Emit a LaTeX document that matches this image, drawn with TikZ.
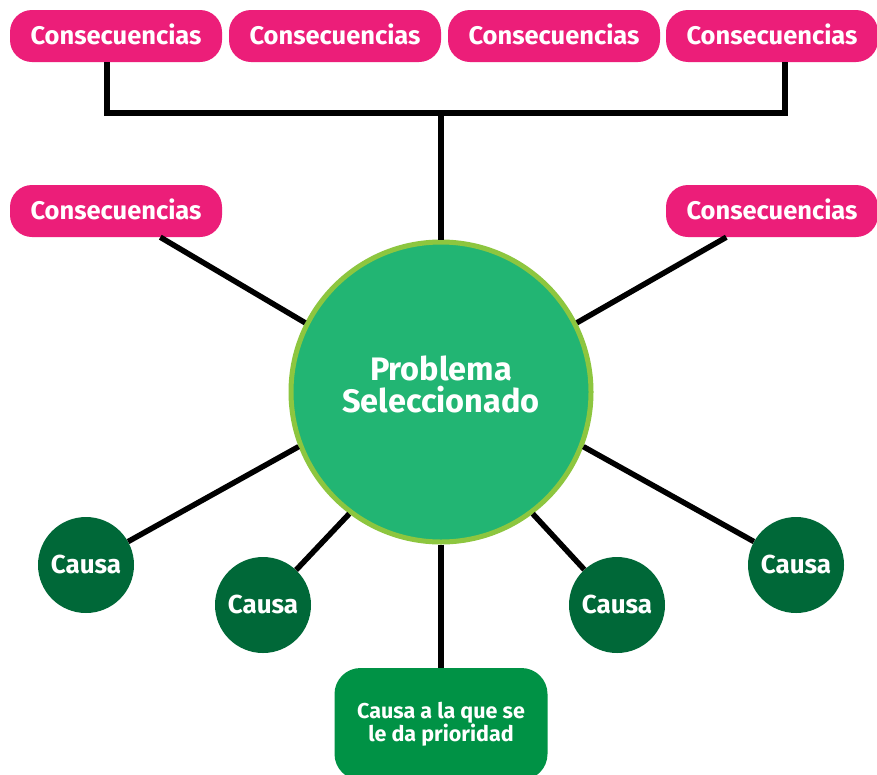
\documentclass[tikz,border=0pt]{standalone}
\usepackage{fontspec}
\setmainfont{Fira Sans}
\usepackage{xcolor}
\definecolor{consepink}{RGB}{236,30,121}
\definecolor{probgreen}{RGB}{34,181,115}
\definecolor{problime}{RGB}{141,198,63}
\definecolor{causagreen}{RGB}{0,104,56}
\definecolor{priogreen}{RGB}{0,146,69}
\usetikzlibrary{positioning,calc}
\tikzset{
	conse/.style={
		rectangle,
		rounded corners=22pt,
		fill=consepink,
		text=white,
		minimum width=212pt,
		minimum height=52pt,
		text depth=4pt,
		font=\fontsize{25.5}{28}\selectfont\bfseries,
	},
	problema/.style={
		circle,
		draw=problime,
		line width=5pt,
		fill=probgreen,
		text=white,
		minimum size=300pt,
		align=center,
		text depth=16pt,
		font=\fontsize{32.5}{32}\selectfont\bfseries,
	},
	causa/.style={
		circle,
		fill=causagreen,
		text=white,
		minimum size=96pt,
		text depth=2pt,
		font=\fontsize{26}{28}\selectfont\bfseries,
	},
	prioridad/.style={
		rectangle,
		rounded corners=26pt,
		fill=priogreen,
		text=white,
		minimum width=213pt,
		minimum height=112pt,
		align=center,
		font=\fontsize{21.5}{22}\selectfont\bfseries,
	},
	link/.style={
		line width=5.5pt,
		draw=black,
	},
}
\begin{document}
\begin{tikzpicture}[x=1pt,y=-1pt]

\useasboundingbox[fill=white] (0,0) rectangle (877,774);

% consecuencias arriba
\node[conse] (c1) at (116,36) {Consecuencias};
\node[conse] (c2) at (335,36) {Consecuencias};
\node[conse] (c3) at (554,36) {Consecuencias};
\node[conse] (c4) at (772,36) {Consecuencias};
\node[conse] (c5) at (116,211) {Consecuencias};
\node[conse] (c6) at (772,211) {Consecuencias};

% problema
\node[problema] (prob) at (441,392) {Problema\\Seleccionado};

% causas
\node[causa] (k1) at (86,565) {Causa};
\node[causa] (k2) at (263,605) {Causa};
\node[causa] (k3) at (617,605) {Causa};
\node[causa] (k4) at (796,565) {Causa};
\node[prioridad] (prio) at (441,724) {Causa a la que se\\le da prioridad};

\coordinate (bar) at (441,113);

\draw[link] 
  ([xshift=-9pt]c1.south) 
  |- 
  (bar) 
  -| 
  ([xshift=13pt]c4.south);
\draw[link] (bar) -- (prob.north);

\draw[link] (prob.153) -- (c5);
\draw[link] (prob.27) -- (c6);

\draw[link] (prob.201) -- (k1);
\draw[link] (prob.233) -- (k2);
\draw[link] (prob.307) -- (k3);
\draw[link] (prob.339) -- (k4);
\draw[link] (prob.south) -- (prio);

\end{tikzpicture}
\end{document}
